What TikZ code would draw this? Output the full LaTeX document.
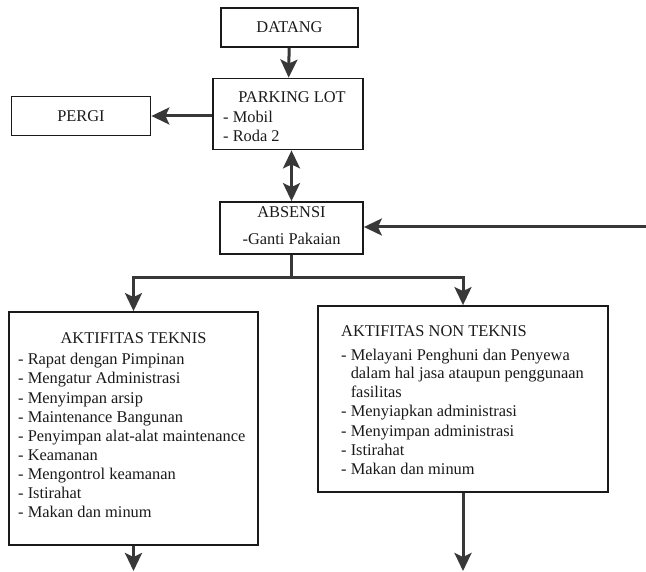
\documentclass[tikz,border=0pt]{standalone}
\usepackage{fontspec}
\setmainfont{Liberation Serif}
\usetikzlibrary{arrows.meta,calc}
\definecolor{ink}{HTML}{1A1A1A}
\definecolor{arrowink}{HTML}{383838}
\begin{document}
\begin{tikzpicture}[x=1pt,y=-1pt,
  tip/.tip={Stealth[length=18pt,width=17pt,inset=4pt]},
  box/.style={draw=ink,line width=1.8pt,inner sep=0pt},
  flow/.style={draw=arrowink,line width=3pt,-tip},
  both/.style={draw=arrowink,line width=3pt,tip-tip},
  link/.style={draw=arrowink,line width=3pt},
  txt/.style={font=\fontsize{16.4}{19}\selectfont,inner sep=0pt,text=ink},
]
\useasboundingbox (0,0) rectangle (646,572);

% boxes
\node[box,minimum width=137pt,minimum height=39pt] (datang)  at (289.5,27.5) {};
\node[box,minimum width=150pt,minimum height=71pt] (parking) at (288,114) {};
\node[box,minimum width=139pt,minimum height=39pt] (pergi)   at (81,116) {};
\node[box,minimum width=143pt,minimum height=52pt] (absensi) at (291.5,228) {};
\node[box,minimum width=249pt,minimum height=233pt] (teknis) at (133.5,428.5) {};
\node[box,minimum width=290pt,minimum height=186pt] (nonteknis) at (463,399) {};

% box texts
\node[txt] (tdatang) at (datang) {DATANG};
\node[txt] (tpergi) at (pergi) {PERGI};
\node[txt,anchor=base] (tparking) at (292,103) {PARKING LOT};
\node[txt,anchor=base west] (tmobil) at (223,122.5) {- Mobil};
\node[txt,anchor=base west] (troda) at (223,141.5) {- Roda 2};
\node[txt,anchor=base] (tabsensi) at (291.5,218) {ABSENSI};
\node[txt,anchor=base] (tganti) at (291.5,245) {-Ganti Pakaian};

\node[txt,anchor=base] (ttek) at (133.5,344) {AKTIFITAS TEKNIS};
\foreach \t [count=\i] in {{- Rapat dengan Pimpinan},{- Mengatur Administrasi},
  {- Menyimpan arsip},{- Maintenance Bangunan},{- Penyimpan alat-alat maintenance},
  {- Keamanan},{- Mengontrol keamanan},{- Istirahat},{- Makan dan minum}}
  \node[txt,anchor=base west] (tek\i) at (18,{346+19*\i}) {\t};

\node[txt,anchor=base west] (tnon) at (341,337) {AKTIFITAS NON TEKNIS};
\foreach \t [count=\i] in {{- Melayani Penghuni dan Penyewa},
  {\phantom{- }dalam hal jasa ataupun penggunaan},{\phantom{- }fasilitas},
  {- Menyiapkan administrasi},{- Menyimpan administrasi},{- Istirahat},
  {- Makan dan minum}}
  \node[txt,anchor=base west] (non\i) at (341,{341+19*\i}) {\t};

% connectors
\coordinate (split) at (absensi.south |- 0,278);
\coordinate (fromright) at (646,227);
\coordinate (outL) at (teknis.south |- 0,571);
\coordinate (outR) at (nonteknis.south |- 0,571);

\draw[flow] (datang) -- (parking);
\draw[flow] (parking.west |- pergi.east) -- (pergi.east);
\draw[both] (parking.south -| absensi.north) -- (absensi.north);
\draw[flow] (fromright) -- (absensi.east |- fromright);
\draw[link] (absensi.south) -- (split);
\draw[flow] (split) -| (teknis.north);
\draw[flow] (split) -| (nonteknis.north);
\draw[flow] (teknis.south) -- (outL);
\draw[flow] (nonteknis.south) -- (outR);
\end{tikzpicture}
\end{document}
